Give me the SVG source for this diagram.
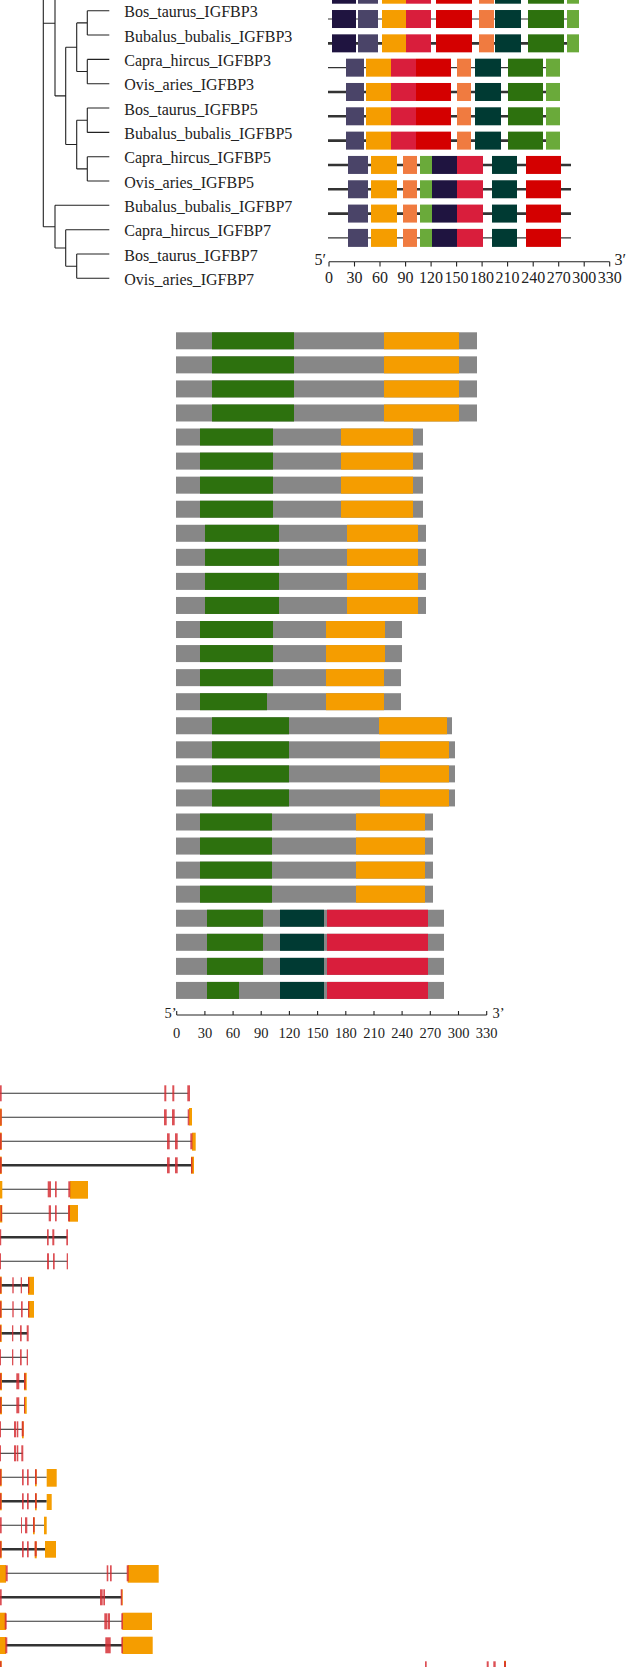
<svg xmlns="http://www.w3.org/2000/svg" width="626" height="1667" viewBox="0 0 626 1667">
<style>
.nv{fill:#1f1440}.sl{fill:#4a4468}.or{fill:#f59d00}.cr{fill:#d91e3c}.rd{fill:#d40000}.co{fill:#f07b40}.te{fill:#003a33}.gr{fill:#2d710e}.lg{fill:#6aaa3a}.gy{fill:#878787}
.ln{stroke:#333;fill:none}.th{stroke-width:1.1}.tk{stroke-width:2.6}
.tr{stroke:#222;stroke-width:1.1;fill:none}
.ex{fill:#d42a30;fill-opacity:.82}.utr{fill:#f59d00}
.lab{font-family:"Liberation Serif","Times New Roman",serif;font-size:16px;fill:#222}
.ax{font-family:"Liberation Serif","Times New Roman",serif;font-size:16px;fill:#222;text-anchor:middle}
.ax2{font-family:"Liberation Serif","Times New Roman",serif;font-size:14.5px;fill:#222;text-anchor:middle}
.end{font-family:"Liberation Serif","Times New Roman",serif;font-size:16px;fill:#222}
.end2{font-family:"Liberation Serif","Times New Roman",serif;font-size:14.5px;fill:#222}
</style>
<defs>
<g id="mA">
<rect class="nv" x="332" y="-9" width="24" height="18"/><rect class="sl" x="358" y="-9" width="20" height="18"/><rect class="or" x="382" y="-9" width="24" height="18"/><rect class="cr" x="406" y="-9" width="25" height="18"/><rect class="rd" x="436" y="-9" width="36" height="18"/><rect class="co" x="479" y="-9" width="15" height="18"/><rect class="te" x="495" y="-9" width="26" height="18"/><rect class="gr" x="528" y="-9" width="36" height="18"/><rect class="lg" x="567" y="-9" width="12" height="18"/>
</g>
<g id="mB">
<rect class="sl" x="346" y="-9" width="18" height="18"/><rect class="or" x="366" y="-9" width="25" height="18"/><rect class="cr" x="391" y="-9" width="25" height="18"/><rect class="rd" x="416" y="-9" width="35" height="18"/><rect class="co" x="457" y="-9" width="14" height="18"/><rect class="te" x="475" y="-9" width="26" height="18"/><rect class="gr" x="508" y="-9" width="35" height="18"/><rect class="lg" x="546" y="-9" width="14" height="18"/>
</g>
<g id="mC">
<rect class="sl" x="348" y="-9" width="20" height="18"/><rect class="or" x="371" y="-9" width="26" height="18"/><rect class="co" x="403" y="-9" width="14" height="18"/><rect class="lg" x="420" y="-9" width="12" height="18"/><rect class="nv" x="432" y="-9" width="25" height="18"/><rect class="cr" x="457" y="-9" width="26" height="18"/><rect class="te" x="492" y="-9" width="25" height="18"/><rect class="rd" x="526" y="-9" width="35" height="18"/>
</g>
<g id="g1"><rect class="gy" x="176" y="0" width="301" height="17"/><rect class="gr" x="212" y="0" width="82" height="17"/><rect class="or" x="384" y="0" width="75" height="17"/></g>
<g id="g2"><rect class="gy" x="176" y="0" width="247" height="17"/><rect class="gr" x="200" y="0" width="73" height="17"/><rect class="or" x="341" y="0" width="72" height="17"/></g>
<g id="g3"><rect class="gy" x="176" y="0" width="250" height="17"/><rect class="gr" x="205" y="0" width="74" height="17"/><rect class="or" x="347" y="0" width="71" height="17"/></g>
<g id="g4a"><rect class="gy" x="176" y="0" width="226" height="17"/><rect class="gr" x="200" y="0" width="73" height="17"/><rect class="or" x="326" y="0" width="59" height="17"/></g>
<g id="g4b"><rect class="gy" x="176" y="0" width="225" height="17"/><rect class="gr" x="200" y="0" width="73" height="17"/><rect class="or" x="326" y="0" width="58" height="17"/></g>
<g id="g4c"><rect class="gy" x="176" y="0" width="225" height="17"/><rect class="gr" x="200" y="0" width="67" height="17"/><rect class="or" x="326" y="0" width="58" height="17"/></g>
<g id="g5a"><rect class="gy" x="176" y="0" width="276" height="17"/><rect class="gr" x="212" y="0" width="77" height="17"/><rect class="or" x="379" y="0" width="68" height="17"/></g>
<g id="g5b"><rect class="gy" x="176" y="0" width="279" height="17"/><rect class="gr" x="212" y="0" width="77" height="17"/><rect class="or" x="380" y="0" width="69" height="17"/></g>
<g id="g6"><rect class="gy" x="176" y="0" width="257" height="17"/><rect class="gr" x="200" y="0" width="72" height="17"/><rect class="or" x="356" y="0" width="69" height="17"/></g>
<g id="g7a"><rect class="gy" x="176" y="0" width="268" height="17"/><rect class="gr" x="207" y="0" width="56" height="17"/><rect class="te" x="280" y="0" width="44" height="17"/><rect class="cr" x="327" y="0" width="101" height="17"/></g>
<g id="g7b"><rect class="gy" x="176" y="0" width="268" height="17"/><rect class="gr" x="207" y="0" width="32" height="17"/><rect class="te" x="280" y="0" width="44" height="17"/><rect class="cr" x="327" y="0" width="101" height="17"/></g>
</defs>

<!-- Tree connectors -->
<g id="connectors">
<path class="tr" d="M43.3,0V226.7M43.3,23.3H55M55,0V95.9M55,95.9H65.7M65.7,47.2V144.5M65.7,47.2H76.7M76.7,22.9V71.5M76.7,22.9H87.3M87.3,10.7V35M87.3,10.7H109.3M87.3,35H109.3M76.7,71.5H87.3M87.3,59.4V83.7M87.3,59.4H109.3M87.3,83.7H109.3M65.7,144.5H76.7M76.7,120.2V168.9M76.7,120.2H87.3M87.3,108V132.4M87.3,108H109.3M87.3,132.4H109.3M76.7,168.9H87.3M87.3,156.7V181M87.3,156.7H109.3M87.3,181H109.3M43.3,226.7H55M55,205.3V248M55,205.3H109.3M55,248H65.7M65.7,229.7V266.2M65.7,229.7H109.3M65.7,266.2H76.7M76.7,254V278.3M76.7,254H109.3M76.7,278.3H109.3"/>
</g>

<!-- Tree labels -->
<g id="leaf-labels">
<text class="lab" x="124.3" y="17.2">Bos_taurus_IGFBP3</text>
<text class="lab" x="124.3" y="41.5">Bubalus_bubalis_IGFBP3</text>
<text class="lab" x="124.3" y="65.9">Capra_hircus_IGFBP3</text>
<text class="lab" x="124.3" y="90.2">Ovis_aries_IGFBP3</text>
<text class="lab" x="124.3" y="114.5">Bos_taurus_IGFBP5</text>
<text class="lab" x="124.3" y="138.9">Bubalus_bubalis_IGFBP5</text>
<text class="lab" x="124.3" y="163.2">Capra_hircus_IGFBP5</text>
<text class="lab" x="124.3" y="187.5">Ovis_aries_IGFBP5</text>
<text class="lab" x="124.3" y="211.8">Bubalus_bubalis_IGFBP7</text>
<text class="lab" x="124.3" y="236.2">Capra_hircus_IGFBP7</text>
<text class="lab" x="124.3" y="260.5">Bos_taurus_IGFBP7</text>
<text class="lab" x="124.3" y="284.8">Ovis_aries_IGFBP7</text>
</g>

<!-- Motif panel -->
<g id="motifs">
<g transform="translate(0,-5.3)"><path class="ln tk" d="M328,0H579"/><use href="#mA"/></g>
<g transform="translate(0,19.02)"><path class="ln th" d="M328,0H579"/><use href="#mA"/></g>
<g transform="translate(0,43.34)"><path class="ln tk" d="M328,0H579"/><use href="#mA"/></g>
<g transform="translate(0,67.66)"><path class="ln th" d="M328,0H560"/><use href="#mB"/></g>
<g transform="translate(0,91.98)"><path class="ln tk" d="M328,0H560"/><use href="#mB"/></g>
<g transform="translate(0,116.3)"><path class="ln tk" d="M328,0H560"/><use href="#mB"/></g>
<g transform="translate(0,140.62)"><path class="ln tk" d="M328,0H560"/><use href="#mB"/></g>
<g transform="translate(0,164.94)"><path class="ln tk" d="M328,0H571"/><use href="#mC"/></g>
<g transform="translate(0,189.26)"><path class="ln tk" d="M328,0H571"/><use href="#mC"/></g>
<g transform="translate(0,213.58)"><path class="ln tk" d="M328,0H571"/><use href="#mC"/></g>
<g transform="translate(0,237.9)"><path class="ln th" d="M328,0H571"/><use href="#mC"/></g>
</g>

<!-- Top axis -->
<g id="axis-top">
<path class="tr" d="M329,261.7H609.7M329,261.7V266.5M354.5,261.7V266.5M380,261.7V266.5M405.6,261.7V266.5M431.1,261.7V266.5M456.6,261.7V266.5M482.1,261.7V266.5M507.6,261.7V266.5M533.2,261.7V266.5M558.7,261.7V266.5M584.2,261.7V266.5M609.7,261.7V266.5"/>
<text class="end" x="314.5" y="265">5′</text>
<text class="end" x="614.5" y="265">3′</text>
<text class="ax" x="329" y="283.3">0</text><text class="ax" x="354.5" y="283.3">30</text><text class="ax" x="380" y="283.3">60</text><text class="ax" x="405.6" y="283.3">90</text><text class="ax" x="431.1" y="283.3">120</text><text class="ax" x="456.6" y="283.3">150</text><text class="ax" x="482.1" y="283.3">180</text><text class="ax" x="507.6" y="283.3">210</text><text class="ax" x="533.2" y="283.3">240</text><text class="ax" x="558.7" y="283.3">270</text><text class="ax" x="584.2" y="283.3">300</text><text class="ax" x="609.7" y="283.3">330</text>
</g>

<!-- Middle domain panel -->
<g id="domains">
<use href="#g1" y="332.3"/><use href="#g1" y="356.36"/><use href="#g1" y="380.42"/><use href="#g1" y="404.48"/>
<use href="#g2" y="428.54"/><use href="#g2" y="452.6"/><use href="#g2" y="476.66"/><use href="#g2" y="500.72"/>
<use href="#g3" y="524.78"/><use href="#g3" y="548.84"/><use href="#g3" y="572.9"/><use href="#g3" y="596.96"/>
<use href="#g4a" y="621.02"/><use href="#g4a" y="645.08"/><use href="#g4b" y="669.14"/><use href="#g4c" y="693.2"/>
<use href="#g5a" y="717.26"/><use href="#g5b" y="741.32"/><use href="#g5b" y="765.38"/><use href="#g5b" y="789.44"/>
<use href="#g6" y="813.5"/><use href="#g6" y="837.56"/><use href="#g6" y="861.62"/><use href="#g6" y="885.68"/>
<use href="#g7a" y="909.74"/><use href="#g7a" y="933.8"/><use href="#g7a" y="957.86"/><use href="#g7b" y="981.92"/>
</g>

<!-- Middle axis -->
<g id="axis-mid">
<path class="tr" d="M176.7,1015H486.7M176.7,1011V1015M204.9,1011V1015M233.1,1011V1015M261.2,1011V1015M289.4,1011V1015M317.6,1011V1015M345.8,1011V1015M374,1011V1015M402.1,1011V1015M430.3,1011V1015M458.5,1011V1015M486.7,1011V1015"/>
<text class="end2" x="164.5" y="1018.3">5’</text>
<text class="end2" x="492.5" y="1018.3">3’</text>
<text class="ax2" x="176.7" y="1037.7">0</text><text class="ax2" x="204.9" y="1037.7">30</text><text class="ax2" x="233.1" y="1037.7">60</text><text class="ax2" x="261.2" y="1037.7">90</text><text class="ax2" x="289.4" y="1037.7">120</text><text class="ax2" x="317.6" y="1037.7">150</text><text class="ax2" x="345.8" y="1037.7">180</text><text class="ax2" x="374" y="1037.7">210</text><text class="ax2" x="402.1" y="1037.7">240</text><text class="ax2" x="430.3" y="1037.7">270</text><text class="ax2" x="458.5" y="1037.7">300</text><text class="ax2" x="486.7" y="1037.7">330</text>
</g>

<!-- Gene structure panel -->
<g id="genes">
<g transform="translate(0,1093.3)"><path class="ln th" d="M0,0H188.3"/><rect class="ex" x="0" y="-8" width="1.7" height="16"/><rect class="ex" x="164.3" y="-8" width="2" height="16"/><rect class="ex" x="172.3" y="-8" width="2" height="16"/><rect class="ex" x="187.3" y="-8" width="2.7" height="16"/></g>
<g transform="translate(0,1117.3)"><path class="ln th" d="M0,0H189"/><rect class="utr" x="0" y="-8.75" width="1.7" height="17.5"/><rect class="ex" x="0.3" y="-8" width="1.4" height="16"/><rect class="ex" x="164" y="-8" width="2.7" height="16"/><rect class="ex" x="172" y="-8" width="2.7" height="16"/><rect class="utr" x="189" y="-9.3" width="3" height="17.5"/><rect class="ex" x="187.7" y="-8" width="1.6" height="16"/></g>
<g transform="translate(0,1141.3)"><path class="ln th" d="M0,0H192"/><rect class="utr" x="0" y="-8.75" width="1.7" height="17.5"/><rect class="ex" x="0" y="-8" width="1.7" height="16"/><rect class="ex" x="167" y="-8" width="2.7" height="16"/><rect class="ex" x="175" y="-8" width="2.7" height="16"/><rect class="utr" x="192" y="-8.6" width="3.7" height="18"/><rect class="ex" x="190.3" y="-8" width="2.2" height="16"/></g>
<g transform="translate(0,1165.3)"><path class="ln tk" d="M0,0H192"/><rect class="utr" x="0" y="-8.75" width="1.7" height="17.5"/><rect class="ex" x="0" y="-8" width="1.7" height="16"/><rect class="ex" x="167" y="-8" width="2.7" height="16"/><rect class="ex" x="175" y="-8" width="2.7" height="16"/><rect class="utr" x="191" y="-8.6" width="3" height="17"/><rect class="ex" x="191" y="-8" width="1.5" height="16"/></g>
<g transform="translate(0,1189.3)"><path class="ln th" d="M0,0H70"/><rect class="utr" x="0" y="-8.3" width="2.3" height="17.5"/><rect class="ex" x="47.7" y="-8" width="3.3" height="16"/><rect class="ex" x="55" y="-8" width="1.7" height="16"/><rect class="utr" x="70" y="-8.3" width="18" height="17.7"/><rect class="ex" x="68.3" y="-8" width="2" height="16"/></g>
<g transform="translate(0,1213.3)"><path class="ln th" d="M0,0H68.5"/><rect class="utr" x="0" y="-8.3" width="2.3" height="17.5"/><rect class="ex" x="0.5" y="-8" width="1.5" height="16"/><rect class="ex" x="48.7" y="-8" width="2.3" height="16"/><rect class="ex" x="55" y="-8" width="1.7" height="16"/><rect class="utr" x="68.5" y="-8.3" width="9.5" height="16.7"/><rect class="ex" x="68" y="-8" width="2" height="16"/></g>
<g transform="translate(0,1237.3)"><path class="ln tk" d="M0,0H67.3"/><rect class="ex" x="0" y="-8" width="1.2" height="16"/><rect class="ex" x="47" y="-8" width="1.7" height="16"/><rect class="ex" x="52.3" y="-8" width="2" height="16"/><rect class="ex" x="66.3" y="-8" width="1.7" height="16"/></g>
<g transform="translate(0,1261.3)"><path class="ln th" d="M0,0H67.3"/><rect class="ex" x="0" y="-8" width="1" height="16"/><rect class="ex" x="47" y="-8" width="2" height="16"/><rect class="ex" x="53" y="-8" width="1.7" height="16"/><rect class="ex" x="66.7" y="-8" width="1.3" height="16"/></g>
<g transform="translate(0,1285.3)"><path class="ln tk" d="M0,0H28.3"/><rect class="utr" x="0" y="-8.75" width="1.7" height="17.5"/><rect class="ex" x="0" y="-8" width="1.5" height="16"/><rect class="ex" x="12.3" y="-8" width="1.4" height="16"/><rect class="ex" x="20.7" y="-8" width="1.3" height="16"/><rect class="utr" x="28" y="-8.5" width="6" height="18"/><rect class="ex" x="28" y="-8" width="1.3" height="16"/></g>
<g transform="translate(0,1309.3)"><path class="ln th" d="M0,0H28.3"/><rect class="utr" x="0" y="-8.75" width="1.7" height="17.5"/><rect class="ex" x="0" y="-8" width="1.5" height="16"/><rect class="ex" x="12.3" y="-8" width="1.4" height="16"/><rect class="ex" x="21" y="-8" width="1.7" height="16"/><rect class="utr" x="28.3" y="-8.3" width="5.7" height="16.7"/><rect class="ex" x="28" y="-8" width="1.3" height="16"/></g>
<g transform="translate(0,1333.3)"><path class="ln tk" d="M0,0H27.3"/><rect class="utr" x="0" y="-8.75" width="1.7" height="17.5"/><rect class="ex" x="0" y="-8" width="1.2" height="16"/><rect class="ex" x="12" y="-8" width="1.3" height="16"/><rect class="ex" x="20" y="-8" width="1.7" height="16"/><rect class="ex" x="26.7" y="-8" width="2" height="16"/></g>
<g transform="translate(0,1357.3)"><path class="ln th" d="M0,0H27.3"/><rect class="ex" x="0" y="-8" width="1" height="16"/><rect class="ex" x="12" y="-8" width="1.3" height="16"/><rect class="ex" x="20" y="-8" width="1.7" height="16"/><rect class="ex" x="26.7" y="-8" width="1.3" height="16"/></g>
<g transform="translate(0,1381.3)"><path class="ln tk" d="M0,0H25"/><rect class="utr" x="0" y="-8.5" width="2" height="17.5"/><rect class="ex" x="0" y="-8" width="1.5" height="16"/><rect class="ex" x="16.3" y="-8" width="3" height="16"/><rect class="utr" x="24" y="-8.5" width="2.7" height="17.5"/><rect class="ex" x="24" y="-8" width="1.7" height="16"/></g>
<g transform="translate(0,1405.3)"><path class="ln th" d="M0,0H25"/><rect class="utr" x="0" y="-8.5" width="2" height="17.5"/><rect class="ex" x="0" y="-8" width="1.5" height="16"/><rect class="ex" x="16.3" y="-8" width="3" height="16"/><rect class="utr" x="24.3" y="-8.5" width="2.4" height="17"/><rect class="ex" x="24" y="-8" width="1" height="16"/></g>
<g transform="translate(0,1429.3)"><path class="ln th" d="M0,0H22.7"/><rect class="ex" x="0" y="-8" width="1" height="16"/><rect class="ex" x="14" y="-8" width="2" height="16"/><rect class="ex" x="16.7" y="-8" width="1.6" height="16"/><rect class="utr" x="22" y="-8" width="1.7" height="17"/><rect class="ex" x="21.7" y="-8" width="2" height="15"/></g>
<g transform="translate(0,1453.3)"><path class="ln th" d="M0,0H22.7"/><rect class="ex" x="0" y="-8" width="1" height="16"/><rect class="ex" x="14" y="-8" width="2" height="16"/><rect class="ex" x="16.7" y="-8" width="1.6" height="16"/><rect class="ex" x="21.3" y="-8" width="2" height="16"/></g>
<g transform="translate(0,1477.3)"><path class="ln th" d="M0,0H46.7"/><rect class="utr" x="0" y="-8.5" width="1.7" height="17.5"/><rect class="ex" x="0" y="-8" width="1.5" height="16"/><rect class="ex" x="22" y="-8" width="1.7" height="16"/><rect class="ex" x="27" y="-8" width="1.7" height="16"/><rect class="utr" x="35" y="-8" width="1.7" height="17"/><rect class="ex" x="35" y="-8" width="1.7" height="15"/><rect class="utr" x="46.7" y="-8.3" width="10" height="17.7"/></g>
<g transform="translate(0,1501.3)"><path class="ln tk" d="M0,0H46.7"/><rect class="utr" x="0" y="-8.5" width="1.7" height="17.5"/><rect class="ex" x="0" y="-8" width="1.5" height="16"/><rect class="ex" x="22" y="-8" width="1.7" height="16"/><rect class="ex" x="27" y="-8" width="1.7" height="16"/><rect class="utr" x="35" y="-8" width="1.7" height="17"/><rect class="ex" x="35" y="-8" width="1.7" height="15"/><rect class="utr" x="46.7" y="-7.3" width="5" height="16"/></g>
<g transform="translate(0,1525.3)"><path class="ln th" d="M0,0H44"/><rect class="ex" x="0" y="-8" width="1.7" height="16"/><rect class="ex" x="21" y="-8" width="1" height="16"/><rect class="ex" x="25" y="-8" width="2.3" height="16"/><rect class="utr" x="33" y="-8" width="1.7" height="17"/><rect class="ex" x="33" y="-8" width="1.7" height="15"/><rect class="utr" x="44" y="-8.6" width="2.7" height="17.6"/></g>
<g transform="translate(0,1549.3)"><path class="ln tk" d="M0,0H45"/><rect class="utr" x="0" y="-8.5" width="1.7" height="17.5"/><rect class="ex" x="0" y="-8" width="1.5" height="16"/><rect class="ex" x="22" y="-8" width="1.7" height="16"/><rect class="ex" x="27" y="-8" width="1.7" height="16"/><rect class="utr" x="34.7" y="-8" width="2" height="17"/><rect class="ex" x="34.7" y="-8" width="2" height="15"/><rect class="utr" x="45" y="-8.3" width="11" height="16.7"/></g>
<g transform="translate(0,1573.3)"><path class="ln th" d="M6,0H127.3"/><rect class="utr" x="0" y="-8.3" width="6" height="17.7"/><rect class="ex" x="5.7" y="-8" width="2" height="16"/><rect class="ex" x="106.7" y="-8" width="1.6" height="16"/><rect class="ex" x="110" y="-8" width="1.7" height="16"/><rect class="utr" x="127.7" y="-8.3" width="31" height="17.7"/><rect class="ex" x="126.7" y="-8" width="2" height="16"/></g>
<g transform="translate(0,1597.3)"><path class="ln tk" d="M0,0H121.7"/><rect class="ex" x="0" y="-8" width="1.7" height="16"/><rect class="ex" x="100" y="-8" width="2.7" height="16"/><rect class="ex" x="103.3" y="-8" width="1.7" height="16"/><rect class="utr" x="121.5" y="-8" width="1.2" height="16"/><rect class="ex" x="120.7" y="-8" width="1.6" height="16"/></g>
<g transform="translate(0,1621.3)"><path class="ln th" d="M5,0H122"/><rect class="utr" x="0" y="-8.6" width="6" height="17.3"/><rect class="ex" x="4.7" y="-8" width="2" height="16"/><rect class="ex" x="104.3" y="-8" width="3" height="16"/><rect class="ex" x="107.7" y="-8" width="2.3" height="16"/><rect class="utr" x="122.3" y="-8.6" width="29.7" height="17.3"/><rect class="ex" x="121.3" y="-8" width="1.7" height="16"/></g>
<g transform="translate(0,1645.3)"><path class="ln tk" d="M6,0H122"/><rect class="utr" x="0" y="-8.3" width="6" height="17"/><rect class="ex" x="5.3" y="-8" width="2" height="16"/><rect class="ex" x="105.3" y="-8" width="5.4" height="16"/><rect class="utr" x="122.3" y="-8.6" width="30.4" height="17.3"/><rect class="ex" x="121.3" y="-8" width="1.7" height="16"/></g>
<g transform="translate(0,1669.3)"><path class="ln th" d="M0,0H506"/><rect class="utr" x="0" y="-8.5" width="1.7" height="17.5"/><rect class="ex" x="0" y="-8" width="1.5" height="16"/><rect class="ex" x="425" y="-8" width="1.7" height="16"/><rect class="ex" x="486.7" y="-8" width="2" height="16"/><rect class="ex" x="493.3" y="-8" width="2.4" height="16"/><rect class="utr" x="504" y="-8.5" width="2" height="17.5"/><rect class="ex" x="504" y="-8" width="2" height="16"/></g>
</g>
</svg>
